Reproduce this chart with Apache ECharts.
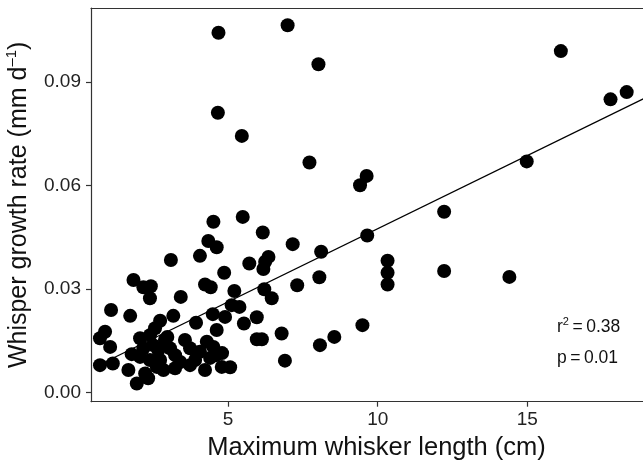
<!DOCTYPE html>
<html>
<head>
<meta charset="utf-8">
<script src="https://cdn.jsdelivr.net/npm/echarts@6/dist/echarts.min.js"></script>
<style>
html,body{margin:0;padding:0;background:#fff;}
#chart{width:643px;height:464px;}
</style>
</head>
<body>
<div id="chart"></div>
<script>
// Maximum whisker length (cm)
const whiskerLength = [
  4.68, 6.99, 8.02, 4.66, 5.46, 7.72, 16.12, 17.78, 18.32, 14.98,
  9.63, 9.41, 12.22, 9.65, 10.33, 10.33, 10.33, 12.22, 14.40, 9.49,
  8.55, 8.07, 8.11, 8.05, 6.90, 7.31, 7.16, 6.79, 4.51, 5.49,
  6.16, 4.34, 4.62, 3.09, 4.06, 5.71, 6.35, 6.24, 6.18, 4.87,
  1.84, 2.17, 2.42, 4.23, 4.42, 5.21, 6.21, 2.39, 3.42, 6.46,
  1.09, 1.73, 3.17, 2.73, 2.56, 3.93, 4.49, 5.12, 5.38, 5.53,
  4.90, 4.62, 0.89, 0.72, 1.06, 2.06, 2.97, 3.56, 4.29, 4.51,
  0.72, 1.15, 1.78, 2.17, 2.06, 2.50, 2.67, 3.06, 3.23, 3.73,
  4.06, 1.67, 1.95, 2.23, 2.62, 2.84, 3.23, 3.73, 4.23, 4.79,
  5.07, 2.39, 2.33, 2.73, 3.40, 3.90, 4.40, 4.60, 2.89, 2.39,
  4.80, 5.96, 6.13, 5.96
];
// Whisper growth rate (mm d-1)
const growthRate = [
  0.1043, 0.1065, 0.0952, 0.0811, 0.0744, 0.0667, 0.0990, 0.0850, 0.0871, 0.0670,
  0.0628, 0.0601, 0.0524, 0.0455, 0.0382, 0.0347, 0.0313, 0.0352, 0.0335, 0.0195,
  0.0161, 0.0137, 0.0408, 0.0334, 0.0092, 0.0311, 0.0430, 0.0171, 0.0495, 0.0509,
  0.0464, 0.0439, 0.0421, 0.0384, 0.0396, 0.0374, 0.0393, 0.0379, 0.0358, 0.0347,
  0.0326, 0.0305, 0.0308, 0.0313, 0.0305, 0.0294, 0.0299, 0.0273, 0.0277, 0.0273,
  0.0239, 0.0222, 0.0222, 0.0208, 0.0186, 0.0202, 0.0227, 0.0253, 0.0248, 0.0200,
  0.0219, 0.0181, 0.0176, 0.0157, 0.0132, 0.0157, 0.0161, 0.0152, 0.0147, 0.0132,
  0.0079, 0.0084, 0.0111, 0.0128, 0.0103, 0.0137, 0.0123, 0.0128, 0.0108, 0.0128,
  0.0118, 0.0065, 0.0026, 0.0055, 0.0074, 0.0065, 0.0070, 0.0079, 0.0065, 0.0074,
  0.0073, 0.0094, 0.0041, 0.0094, 0.0088, 0.0094, 0.0100, 0.0108, 0.0152, 0.0166,
  0.0114, 0.0154, 0.0154, 0.0218
];
// Fitted regression line end points
const fitX = [0.72, 19.50];
const fitY = [0.0081, 0.0878];
// Tick labels
const xTicks = [5, 10, 15];
const yTicks = [0, 0.03, 0.06, 0.09];

const FONT = "'Liberation Sans', Arial, Helvetica, sans-serif";
const points = whiskerLength.map((x, i) => [x, growthRate[i]]);
const fitLine = fitX.map((x, i) => [x, fitY[i]]);

const chart = echarts.init(document.getElementById('chart'), null, {renderer: 'canvas'});
const axisLineStyle = {color: '#333', width: 1.2};

chart.setOption({
  animation: false,
  backgroundColor: '#fff',
  grid: {left: 91, top: 8, right: -19, bottom: 62.3, containLabel: false, outerBoundsMode: 'none'},
  xAxis: [{
    type: 'value', min: 0.42, max: 19.50,
    splitLine: {show: false},
    axisLine: {show: true, lineStyle: axisLineStyle, onZero: false},
    axisTick: {show: true, length: 5, lineStyle: axisLineStyle, customValues: xTicks},
    axisLabel: {customValues: xTicks, fontSize: 19, color: '#222', fontFamily: FONT, margin: 9},
    name: 'Maximum whisker length (cm)',
    nameLocation: 'middle', nameGap: 30,
    nameTextStyle: {fontSize: 25.5, color: '#111', fontFamily: FONT}
  }, {
    type: 'value', position: 'top', min: 0.42, max: 19.50,
    splitLine: {show: false},
    axisLine: {show: true, lineStyle: axisLineStyle, onZero: false},
    axisTick: {show: false}, axisLabel: {show: false}
  }],
  yAxis: {
    type: 'value', min: -0.0027, max: 0.1115,
    splitLine: {show: false},
    axisLine: {show: true, lineStyle: axisLineStyle, onZero: false},
    axisTick: {show: true, length: 5, lineStyle: axisLineStyle, customValues: yTicks},
    axisLabel: {customValues: yTicks, fontSize: 19, color: '#222', fontFamily: FONT, margin: 10,
      formatter: v => v.toFixed(2)},
    name: '{a|Whisper growth rate (mm d}{s|\u2013}{s|1}{a|)}',
    nameLocation: 'middle', nameGap: 57, nameRotate: 90,
    nameTextStyle: {
      fontSize: 25, color: '#111', fontFamily: FONT,
      rich: {
        a: {fontSize: 25, color: '#111', fontFamily: FONT, lineHeight: 30},
        s: {fontSize: 15, color: '#111', fontFamily: FONT, lineHeight: 14, verticalAlign: 'top'}
      }
    }
  },
  series: [{
    type: 'scatter', data: points, symbol: 'circle', symbolSize: 14,
    itemStyle: {color: '#000', opacity: 1}, z: 2
  }, {
    type: 'line', data: fitLine, symbol: 'none', showSymbol: false,
    lineStyle: {color: '#000', width: 1.3}, z: 3, silent: true
  }],
  graphic: [{
    type: 'text', x: 557, y: 327,
    style: {
      text: '{t|r}{s|2}{t|\u2009=\u20090.38}',
      verticalAlign: 'middle',
      rich: {
        t: {fontSize: 17.5, fill: '#111', fontFamily: FONT, lineHeight: 22},
        s: {fontSize: 11, fill: '#111', fontFamily: FONT, lineHeight: 12, verticalAlign: 'top'}
      }
    }
  }, {
    type: 'text', x: 557, y: 358,
    style: {
      text: 'p\u2009=\u20090.01',
      verticalAlign: 'middle',
      fontSize: 17.5, fill: '#111', fontFamily: FONT
    }
  }]
});
</script>
</body>
</html>
